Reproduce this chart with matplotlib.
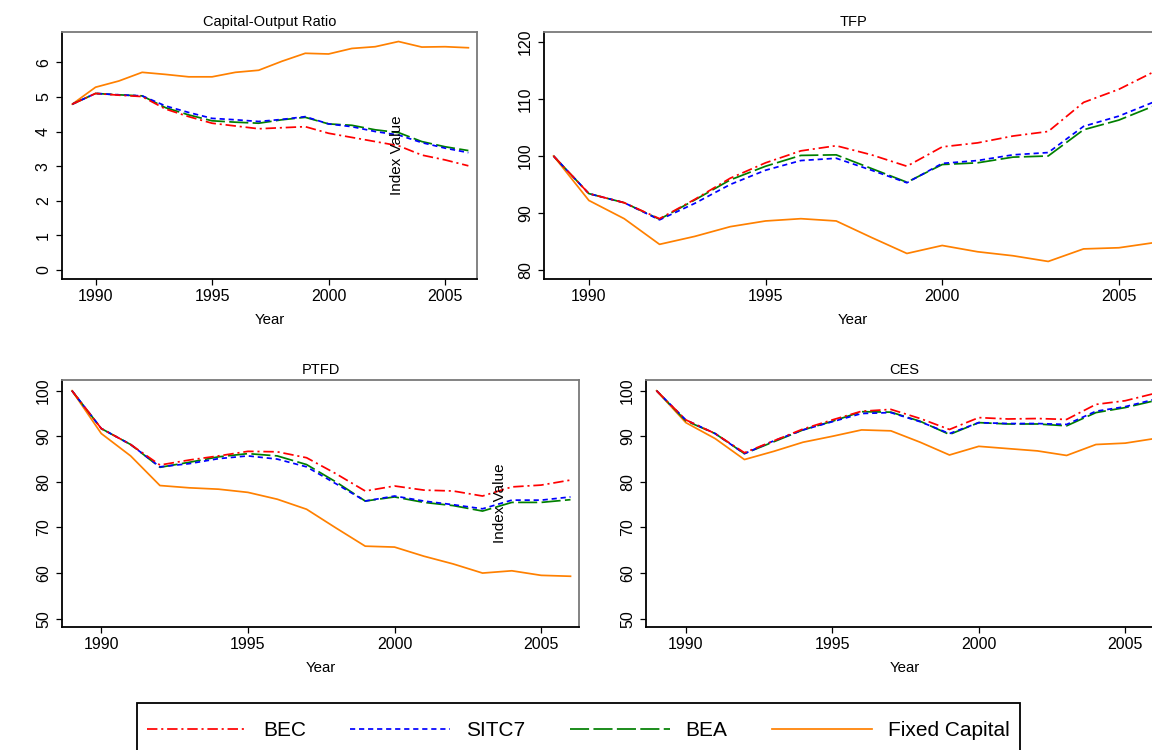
import matplotlib
matplotlib.use('Agg')
import matplotlib.pyplot as plt
from matplotlib.patches import Rectangle

plt.rcParams['font.family'] = ['Liberation Sans', 'DejaVu Sans']

# ---------------- data ----------------
years = list(range(1989, 2007))
series_names = ['BEC', 'SITC7', 'BEA', 'Fixed Capital']
panel_titles = ['Capital-Output Ratio', 'TFP', 'PTFD', 'CES']
x_ticks = [1990, 1995, 2000, 2005]

ko_bec = [4.79, 5.10, 5.05, 5.01, 4.65, 4.43, 4.24, 4.16, 4.08, 4.11, 4.14, 3.95, 3.83, 3.71, 3.59, 3.32, 3.18, 3.01]
ko_sitc7 = [4.79, 5.10, 5.06, 5.03, 4.74, 4.55, 4.38, 4.34, 4.29, 4.35, 4.43, 4.22, 4.14, 4.00, 3.90, 3.68, 3.52, 3.39]
ko_bea = [4.79, 5.10, 5.06, 5.03, 4.69, 4.48, 4.31, 4.27, 4.24, 4.34, 4.41, 4.22, 4.18, 4.05, 3.97, 3.71, 3.56, 3.45]
ko_fixed = [4.79, 5.28, 5.46, 5.71, 5.65, 5.58, 5.58, 5.71, 5.77, 6.03, 6.26, 6.24, 6.40, 6.45, 6.60, 6.44, 6.45, 6.42]

tfp_bec = [100.0, 93.4, 91.8, 89.0, 92.4, 96.1, 98.8, 100.9, 101.8, 100.2, 98.2, 101.6, 102.3, 103.5, 104.3, 109.4, 111.7, 114.8]
tfp_sitc7 = [100.0, 93.4, 91.8, 88.8, 91.7, 95.0, 97.5, 99.2, 99.6, 97.5, 95.3, 98.7, 99.2, 100.2, 100.6, 105.2, 107.0, 109.5]
tfp_bea = [100.0, 93.4, 91.8, 88.9, 92.3, 95.8, 98.2, 100.1, 100.2, 97.8, 95.4, 98.5, 98.8, 99.8, 100.0, 104.6, 106.3, 108.8]
tfp_fixed = [100.0, 92.2, 89.0, 84.5, 85.9, 87.6, 88.6, 89.0, 88.6, 85.7, 82.9, 84.3, 83.2, 82.5, 81.5, 83.7, 83.9, 84.8]

ptfd_bec = [100.0, 91.7, 88.2, 83.7, 84.8, 85.7, 86.7, 86.6, 85.3, 81.8, 78.0, 79.1, 78.2, 78.0, 76.9, 78.9, 79.3, 80.4]
ptfd_sitc7 = [100.0, 91.7, 88.2, 83.3, 84.0, 85.1, 85.7, 85.0, 83.3, 79.6, 75.8, 76.9, 75.8, 75.0, 74.1, 76.0, 76.0, 76.7]
ptfd_bea = [100.0, 91.7, 88.2, 83.2, 84.3, 85.5, 86.2, 85.7, 83.8, 80.0, 75.8, 76.7, 75.5, 74.8, 73.6, 75.5, 75.5, 76.1]
ptfd_fixed = [100.0, 90.6, 85.7, 79.2, 78.7, 78.4, 77.7, 76.2, 74.0, 69.9, 65.9, 65.7, 63.7, 62.0, 60.0, 60.5, 59.5, 59.3]

ces_bec = [100.0, 93.6, 90.6, 86.4, 89.0, 91.6, 93.6, 95.5, 95.9, 93.9, 91.5, 94.1, 93.8, 93.9, 93.7, 97.0, 97.8, 99.4]
ces_sitc7 = [100.0, 93.6, 90.6, 86.2, 89.0, 91.4, 93.2, 95.0, 95.2, 93.2, 90.6, 93.0, 92.8, 92.8, 92.6, 95.5, 96.5, 98.1]
ces_bea = [100.0, 93.4, 90.6, 86.2, 88.8, 91.4, 93.3, 95.4, 95.3, 93.3, 90.4, 93.0, 92.7, 92.7, 92.3, 95.2, 96.3, 97.8]
ces_fixed = [100.0, 93.0, 89.5, 84.9, 86.7, 88.7, 90.0, 91.4, 91.2, 88.7, 85.9, 87.8, 87.3, 86.8, 85.8, 88.2, 88.5, 89.5]

ko_yticks = [0, 1, 2, 3, 4, 5, 6]
tfp_yticks = [80, 90, 100, 110, 120]
idx_yticks = [50, 60, 70, 80, 90, 100]

# ---------------- styling ----------------
W, H = 1152, 750
styles = [
    dict(color='#FF0000', dashes=(6, 2.2, 1.2, 2.2)),
    dict(color='#0000FF', dashes=(3, 2.2)),
    dict(color='#007F00', dashes=(11, 2.5)),
    dict(color='#FF8000', dashes=None),
]
LW = 1.25

fig = plt.figure(figsize=(W / 100, H / 100), dpi=100)


def make_axes(l, r, t, b):
    return fig.add_axes([l / W, 1 - b / H, (r - l) / W, (b - t) / H])


panels = [
    dict(box=(62, 477, 32, 279), data=[ko_bec, ko_sitc7, ko_bea, ko_fixed],
         xlim=(1988.56, 2006.37), ylim=(-0.26, 6.875), yticks=ko_yticks),
    dict(box=(544, 1162, 32, 279), data=[tfp_bec, tfp_sitc7, tfp_bea, tfp_fixed],
         xlim=(1988.73, 2006.22), ylim=(78.42, 121.75), yticks=tfp_yticks),
    dict(box=(62, 579, 380, 627), data=[ptfd_bec, ptfd_sitc7, ptfd_bea, ptfd_fixed],
         xlim=(1988.66, 2006.29), ylim=(48.17, 102.35), yticks=idx_yticks),
    dict(box=(646, 1163, 380, 627), data=[ces_bec, ces_sitc7, ces_bea, ces_fixed],
         xlim=(1988.64, 2006.29), ylim=(48.17, 102.35), yticks=idx_yticks),
]

handles = []
for i, p in enumerate(panels):
    ax = make_axes(*p['box'])
    order = [3, 2, 1, 0]
    hs = {}
    for k in order:
        st = styles[k]
        ln, = ax.plot(years, p['data'][k], color=st['color'], lw=LW, label=series_names[k])
        if st['dashes'] is not None:
            ln.set_dashes(st['dashes'])
        hs[k] = ln
    if i == 0:
        handles = [hs[k] for k in range(4)]
    ax.set_xlim(*p['xlim'])
    ax.set_ylim(*p['ylim'])
    ax.set_xticks(x_ticks)
    ax.set_yticks(p['yticks'])
    ax.tick_params(direction='out', length=4, width=0.9, labelsize=11.5, colors='black', pad=3)
    ax.tick_params(axis='y', labelrotation=90, pad=4)
    for lab in ax.get_yticklabels():
        lab.set_va('center')
    ax.set_title(panel_titles[i], fontsize=10.5, pad=4)
    ax.set_xlabel('Year', fontsize=10.8, labelpad=7)
    for side in ['left', 'bottom']:
        ax.spines[side].set_color('black')
        ax.spines[side].set_linewidth(1.3)
    for side in ['top', 'right']:
        ax.spines[side].set_color('#7a7a7a')
        ax.spines[side].set_linewidth(1.3)

# "Index Value" axis titles of the right-hand panels (overlapping left panels)
fig.text(397 / W, 1 - 155 / H, 'Index Value', rotation=90, ha='center', va='center', fontsize=11)
fig.text(500 / W, 1 - 503 / H, 'Index Value', rotation=90, ha='center', va='center', fontsize=11)

# legend box
fig.patches.append(Rectangle((137 / W, 1 - 765 / H), (1020 - 137) / W, (765 - 703) / H,
                             transform=fig.transFigure, fill=False, edgecolor='black', lw=1.3))
fig.legend(handles=handles, labels=series_names, loc='center left',
           bbox_to_anchor=(147 / W, 1 - 731 / H), ncol=4, frameon=False,
           fontsize=15, handlelength=4.8, handletextpad=0.77, columnspacing=2.12,
           borderpad=0, borderaxespad=0)

fig.savefig('out.png', dpi=100)
